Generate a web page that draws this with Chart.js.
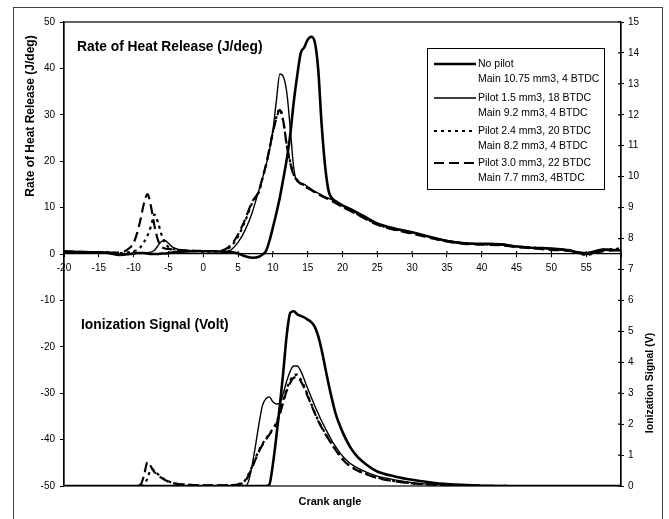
<!DOCTYPE html>
<html>
<head>
<meta charset="utf-8">
<title>Heat release and ionization signal</title>
<script src="https://cdn.jsdelivr.net/npm/chart.js@4.4.1/dist/chart.umd.min.js"></script>
<style>
  html, body { margin: 0; padding: 0; background: #fff; }
  #chart { display: block; }
</style>
</head>
<body>
<canvas id="chart" width="669" height="519"></canvas>
<script>
// crank angle grid for the heat release curves
const hrrAngles = [-20, -17, -14, -12, -10.5, -10, -9.5, -9, -8.5, -8,
  -7.5, -7, -6.5, -6, -5.5, -5, -4.5, -4, -3, -1,
  1, 3, 4, 5, 6, 7, 8, 8.5, 9, 9.5,
  10, 10.5, 11, 11.5, 12, 12.5, 13, 13.5, 14, 14.5,
  15, 15.5, 16, 16.5, 17, 17.5, 18, 18.5, 19, 20,
  21.5, 23, 25, 27.5, 30, 32.5, 35, 37.5, 40, 42.5,
  45, 47.5, 50, 52.5, 55, 57.5, 60];

// rate of heat release (J/deg), left axis
const hrrNoPilot = [0.5, 0.4, 0.3, -0.2, 0.0, 0.1, 0.2, 0.2, 0.2, 0.1,
  0.0, 0.0, 0.0, 0.1, 0.1, 0.2, 0.3, 0.4, 0.5, 0.6,
  0.6, 0.5, 0.4, 0.1, -0.5, -0.8, -0.6, -0.1, 0.6, 2.8,
  5.7, 8.8, 12.2, 16.2, 20.5, 25.8, 32.8, 38.5, 43.3, 44.5,
  46.2, 46.8, 45.8, 40.0, 28.0, 19.0, 13.6, 12.0, 11.4, 10.5,
  9.4, 8.2, 6.6, 5.5, 4.7, 3.7, 2.8, 2.3, 2.2, 2.1,
  1.6, 1.3, 1.2, 0.8, 0.0, 0.9, 0.8];
const hrrPilot15 = [0.4, 0.5, 0.2, 0.0, 0.1, 0.2, 0.2, 0.2, 0.2, 0.3,
  0.4, 0.8, 1.8, 2.7, 2.9, 2.3, 1.6, 1.2, 0.8, 0.7,
  0.6, 0.5, 0.9, 2.5, 5.1, 8.8, 13.8, 16.3, 19.0, 22.3,
  26.6, 33.0, 38.8, 38.2, 34.8, 27.0, 18.5, 15.6, 15.3, 15.0,
  14.5, 14.0, 13.5, 13.1, 12.7, 12.3, 12.0, 11.7, 11.3, 10.4,
  9.2, 8.0, 6.5, 5.4, 4.6, 3.7, 2.9, 2.4, 2.2, 2.2,
  1.7, 1.3, 1.1, 0.6, 0.3, 1.1, 0.7];
const hrrPilot24 = [0.5, 0.3, 0.4, 0.2, 0.4, 0.6, 0.9, 1.5, 2.6, 4.0,
  6.0, 8.5, 6.8, 4.2, 2.5, 1.5, 1.1, 1.0, 0.8, 0.6,
  0.5, 0.8, 1.7, 3.8, 7.0, 10.9, 13.4, 16.2, 19.0, 22.5,
  26.4, 29.5, 31.3, 28.5, 23.3, 19.8, 17.0, 15.9, 15.2, 14.8,
  14.3, 13.9, 13.4, 13.0, 12.6, 12.2, 11.9, 11.5, 11.1, 10.2,
  9.1, 7.9, 6.4, 5.3, 4.5, 3.6, 2.8, 2.3, 2.1, 2.0,
  1.6, 1.4, 1.0, 0.9, -0.2, 0.8, 1.2];
const hrrPilot30 = [0.6, 0.4, 0.3, 0.3, 1.4, 2.4, 4.5, 7.5, 11.0, 12.9,
  10.2, 6.0, 3.0, 1.6, 1.2, 1.1, 1.0, 0.9, 0.8, 0.7,
  0.6, 0.9, 2.0, 4.2, 7.4, 11.2, 13.6, 16.4, 19.2, 22.6,
  26.2, 29.2, 31.0, 28.6, 23.4, 19.6, 16.9, 15.9, 15.1, 14.7,
  14.2, 13.8, 13.3, 12.9, 12.5, 12.1, 11.8, 11.4, 11.0, 10.1,
  9.0, 7.8, 6.3, 5.2, 4.4, 3.5, 2.7, 2.2, 2.0, 1.9,
  1.5, 1.2, 0.9, 0.7, 0.1, 0.6, 0.9];

// crank angle grid for the ionization curves
const ionAngles = [-20, -12, -10, -9, -8.5, -8, -7.5, -7, -6.5, -6,
  -5, -4, -3, -1, 2, 4, 5, 6, 6.5, 7,
  7.5, 8, 8.5, 9, 9.5, 10, 10.5, 11, 11.5, 12,
  12.5, 13, 13.5, 14, 14.5, 15, 15.5, 16, 16.5, 17,
  17.5, 18, 18.5, 19, 20, 21, 22, 23.5, 25, 27.5,
  30, 32.5, 35, 40, 45, 50, 55, 60];

// ionization signal (V), right axis
const ionNoPilot = [0, 0, 0, 0, 0, 0, 0, 0, 0, 0,
  0, 0, 0, 0, 0, 0, 0, 0, 0, 0,
  0, 0, 0, 0, 0.05, 0.7, 1.6, 2.6, 3.7, 4.9,
  5.6, 5.65, 5.55, 5.5, 5.45, 5.38, 5.3, 5.15, 4.85, 4.4,
  3.85, 3.3, 2.8, 2.35, 1.75, 1.3, 0.98, 0.68, 0.47, 0.31,
  0.2, 0.12, 0.06, 0.01, 0, 0, 0, 0];
const ionPilot15 = [0, 0, 0, 0, 0, 0, 0, 0, 0, 0,
  0, 0, 0, 0, 0, 0, 0, 0, 0.15, 0.65,
  1.3, 2.0, 2.6, 2.82, 2.88, 2.72, 2.65, 2.68, 3.0, 3.4,
  3.72, 3.88, 3.88, 3.72, 3.45, 3.15, 2.88, 2.6, 2.35, 2.1,
  1.88, 1.66, 1.45, 1.28, 0.97, 0.75, 0.6, 0.44, 0.32, 0.2,
  0.11, 0.06, 0.03, 0.01, 0, 0, 0, 0];
const ionPilot24 = [0, 0, 0, 0, 0.05, 0.25, 0.55, 0.5, 0.38, 0.28,
  0.15, 0.08, 0.05, 0.03, 0.02, 0.03, 0.06, 0.18, 0.38, 0.62,
  0.9, 1.15, 1.36, 1.53, 1.69, 1.86, 2.05, 2.38, 2.78, 3.15,
  3.42, 3.58, 3.6, 3.45, 3.22, 2.94, 2.66, 2.39, 2.13, 1.91,
  1.71, 1.53, 1.35, 1.19, 0.88, 0.67, 0.53, 0.38, 0.27, 0.16,
  0.09, 0.05, 0.03, 0.01, 0, 0, 0, 0];
const ionPilot30 = [0, 0, 0, 0.05, 0.35, 0.78, 0.62, 0.45, 0.35, 0.26,
  0.14, 0.08, 0.05, 0.03, 0.02, 0.03, 0.05, 0.15, 0.34, 0.58,
  0.86, 1.12, 1.33, 1.5, 1.66, 1.83, 2.0, 2.32, 2.72, 3.08,
  3.34, 3.5, 3.52, 3.39, 3.17, 2.9, 2.63, 2.36, 2.11, 1.89,
  1.69, 1.51, 1.33, 1.17, 0.86, 0.65, 0.52, 0.37, 0.26, 0.15,
  0.08, 0.05, 0.02, 0.01, 0, 0, 0, 0];

const legendLabels = [
  ['No pilot', 'Main 10.75 mm3, 4 BTDC'],
  ['Pilot 1.5 mm3, 18 BTDC', 'Main 9.2 mm3, 4 BTDC'],
  ['Pilot 2.4 mm3, 20 BTDC', 'Main 8.2 mm3, 4 BTDC'],
  ['Pilot 3.0 mm3, 22 BTDC', 'Main 7.7 mm3, 4BTDC']
];

const FONT = '"Liberation Sans", Arial, sans-serif';
Chart.defaults.font.family = FONT;
Chart.defaults.color = '#000';

// line look per case: thick solid, thin solid, short dash, long dash
const caseStyles = [
  { borderWidth: 2.6, borderDash: [] },
  { borderWidth: 1.4, borderDash: [] },
  { borderWidth: 2.2, borderDash: [3, 4] },
  { borderWidth: 2.2, borderDash: [10, 5] }
];

const toPoints = (angles, values) => angles.map((a, i) => ({ x: a, y: values[i] }));

const hrrSeries = [hrrNoPilot, hrrPilot15, hrrPilot24, hrrPilot30];
const ionSeries = [ionNoPilot, ionPilot15, ionPilot24, ionPilot30];

const datasets = [];
hrrSeries.forEach((vals, i) => {
  datasets.push({
    label: legendLabels[i][0],
    data: toPoints(hrrAngles, vals),
    yAxisID: 'y',
    borderColor: '#000',
    ...caseStyles[i]
  });
});
ionSeries.forEach((vals, i) => {
  datasets.push({
    label: legendLabels[i][0] + ' (ion)',
    data: toPoints(ionAngles, vals),
    yAxisID: 'y2',
    borderColor: '#000',
    ...caseStyles[i]
  });
});

// outer frame, plot box, inner halves of the crossing ticks and the free texts
const chartFrame = {
  id: 'chartFrame',
  beforeDraw(chart) {
    const c = chart.ctx;
    c.save();
    c.fillStyle = '#fff';
    c.fillRect(0, 0, chart.width, chart.height);
    c.strokeStyle = '#444';
    c.lineWidth = 1;
    c.strokeRect(13.5, 7.5, 649, 530);
    c.restore();
  },
  afterDraw(chart) {
    const c = chart.ctx;
    const a = chart.chartArea;
    const { x, y, y2 } = chart.scales;
    c.save();
    c.strokeStyle = '#000';
    c.lineWidth = 1.2;
    c.strokeRect(a.left, a.top, a.right - a.left, a.bottom - a.top);

    const y0 = y.getPixelForValue(0);
    c.beginPath();
    x.ticks.forEach(t => {
      const px = x.getPixelForValue(t.value);
      c.moveTo(px, y0 - 3);
      c.lineTo(px, y0);
    });
    y2.ticks.forEach(t => {
      const py = y2.getPixelForValue(t.value);
      c.moveTo(a.right - 3, py);
      c.lineTo(a.right, py);
    });
    c.stroke();

    c.fillStyle = '#000';
    c.textBaseline = 'middle';
    c.textAlign = 'left';
    c.font = 'bold 13.8px ' + FONT;
    c.fillText('Rate of Heat Release (J/deg)', 77, 47);
    c.fillText('Ionization Signal (Volt)', 81, 325);

    c.textAlign = 'center';
    c.font = 'bold 11px ' + FONT;
    c.fillText('Crank angle', 330, 502);

    c.save();
    c.translate(31, 116);
    c.rotate(-Math.PI / 2);
    c.font = 'bold 12px ' + FONT;
    c.fillText('Rate of Heat Release (J/deg)', 0, 0);
    c.restore();

    c.save();
    c.translate(650, 383);
    c.rotate(-Math.PI / 2);
    c.font = 'bold 10.5px ' + FONT;
    c.fillText('Ionization Signal (V)', 0, 0);
    c.restore();

    c.restore();
  }
};

// boxed legend inside the plot, samples taken from the datasets
const legendBox = {
  id: 'legendBox',
  afterDraw(chart) {
    const c = chart.ctx;
    const left = 427, top = 48, w = 177, h = 141;
    const rowY = [64, 98, 131, 163];
    c.save();
    c.fillStyle = '#fff';
    c.fillRect(left, top, w, h);
    c.strokeStyle = '#000';
    c.lineWidth = 1;
    c.strokeRect(left + 0.5, top + 0.5, w, h);
    c.font = '10.5px ' + FONT;
    c.fillStyle = '#000';
    c.textBaseline = 'middle';
    c.textAlign = 'left';
    legendLabels.forEach((lines, i) => {
      const ds = chart.data.datasets[i];
      const yy = rowY[i];
      c.lineWidth = ds.borderWidth;
      c.setLineDash(ds.borderDash);
      c.beginPath();
      c.moveTo(434, yy);
      c.lineTo(476, yy);
      c.stroke();
      c.setLineDash([]);
      c.fillText(lines[0], 478, yy);
      c.fillText(lines[1], 478, yy + 15);
    });
    c.restore();
  }
};

new Chart(document.getElementById('chart'), {
  type: 'line',
  data: { datasets },
  options: {
    responsive: false,
    animation: false,
    layout: { padding: { top: 22, bottom: 33, left: 0, right: 0 } },
    elements: {
      point: { radius: 0 },
      line: { cubicInterpolationMode: 'monotone', fill: false }
    },
    plugins: {
      legend: { display: false },
      tooltip: { enabled: false }
    },
    scales: {
      x: {
        type: 'linear',
        min: -20,
        max: 60,
        position: { y: 0 },
        afterFit(s) { s.height = 0; },
        border: { display: true, color: '#000', width: 1.2 },
        grid: { drawOnChartArea: false, tickLength: 3, color: '#000' },
        ticks: {
          stepSize: 5,
          autoSkip: false,
          maxRotation: 0,
          padding: 5,
          font: { size: 10 },
          callback: v => (v === 60 ? '' : v)
        }
      },
      y: {
        position: 'left',
        min: -50,
        max: 50,
        afterFit(s) { s.width = 64; },
        border: { color: '#000', width: 1.2 },
        grid: { drawOnChartArea: false, tickLength: 4, color: '#000' },
        ticks: { stepSize: 10, padding: 5, font: { size: 10 } }
      },
      y2: {
        position: 'right',
        min: 0,
        max: 15,
        afterFit(s) { s.width = 48; },
        border: { color: '#000', width: 1.2 },
        grid: { drawOnChartArea: false, tickLength: 3, color: '#000' },
        ticks: { stepSize: 1, padding: 4, font: { size: 10 } }
      }
    }
  },
  plugins: [chartFrame, legendBox]
});
</script>
</body>
</html>
